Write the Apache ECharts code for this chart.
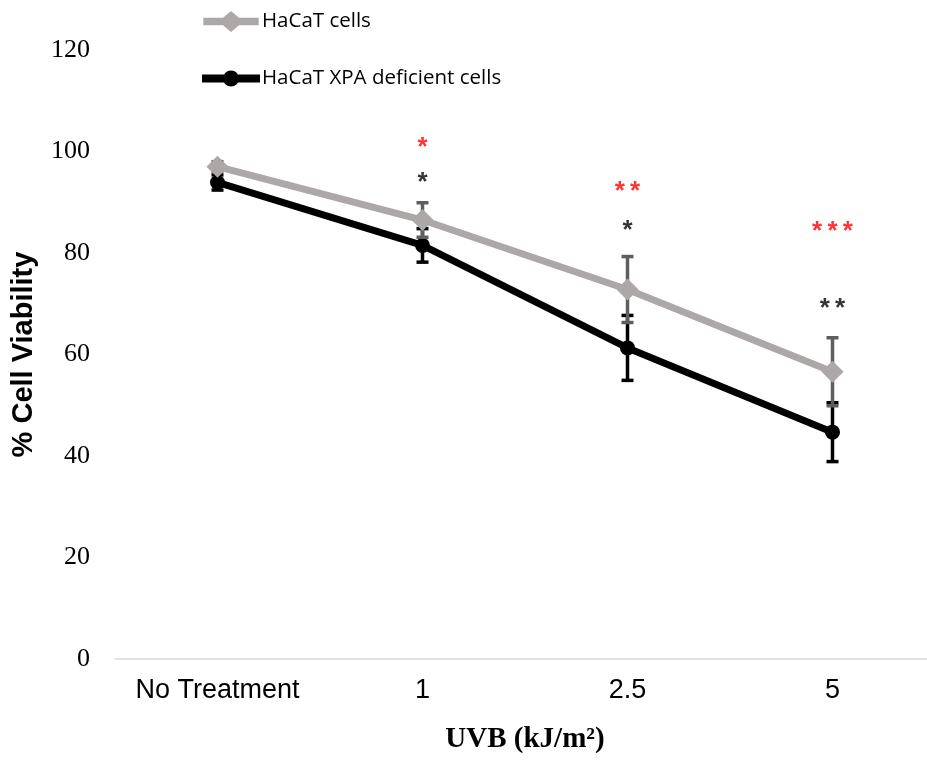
<!DOCTYPE html>
<html>
<head>
<meta charset="utf-8">
<script src="https://cdn.jsdelivr.net/npm/echarts@6/dist/echarts.min.js"></script>
<style>
  html, body { margin: 0; padding: 0; background: #fff; }
  #chart { width: 927px; height: 776px; }
</style>
</head>
<body>
<div id="chart"></div>
<script>
// UVB dose groups
const categories = ['No Treatment', '1', '2.5', '5'];

// Mean % viability and standard deviation per group
const hacatMean = [97.0, 86.5, 72.8, 56.6];
const hacatErr  = [1.0, 3.4, 6.5, 6.7];
const xpaMean   = [93.9, 81.5, 61.3, 44.7];
const xpaErr    = [1.5, 3.3, 6.4, 5.8];

// Significance markers: [group index, height on the value axis, number of stars]
const hacatStars = [[1, 100.8, 1], [2, 92.0, 2], [3, 84.1, 3]];
const xpaStars   = [[1, 93.9, 1], [2, 84.3, 1], [3, 69.0, 2]];

const yTicks = { min: 0, max: 120, interval: 20 };

const GRAY = '#aba8a7';
const GRAY_ERR = '#5e5e5e';
const BLACK = '#000000';

// Legend icons: thick line with the series marker in the middle
const ICON_DIAMOND = 'path://M0,6 L58,6 L58,14 L0,14 Z M29,-1 L42,10 L29,21 L16,10 Z';
const ICON_CIRCLE = 'path://M0,6 L58,6 L58,14 L0,14 Z M21,10 A8,8 0 1,1 37,10 A8,8 0 1,1 21,10 Z';

function errorSeries(name, means, errs, color, z) {
  return {
    name: name + ' error',
    type: 'custom',
    z: z,
    silent: true,
    data: means.map((m, i) => [i, m - errs[i], m + errs[i]]),
    renderItem: function (params, api) {
      const lo = api.coord([api.value(0), api.value(1)]);
      const hi = api.coord([api.value(0), api.value(2)]);
      const cap = 6;
      const style = { stroke: color, lineWidth: 3.5, fill: null };
      return {
        type: 'group',
        children: [
          { type: 'line', shape: { x1: lo[0], y1: lo[1], x2: hi[0], y2: hi[1] }, style: style },
          { type: 'line', shape: { x1: lo[0] - cap, y1: lo[1], x2: lo[0] + cap, y2: lo[1] }, style: style },
          { type: 'line', shape: { x1: hi[0] - cap, y1: hi[1], x2: hi[0] + cap, y2: hi[1] }, style: style }
        ]
      };
    }
  };
}

function starSeries(name, stars, color) {
  return {
    name: name,
    type: 'scatter',
    z: 10,
    silent: true,
    symbolSize: 1,
    itemStyle: { color: 'rgba(0,0,0,0)' },
    data: stars.map(s => ({
      value: [s[0], s[1]],
      count: s[2],
      // a run of three stars sits slightly right of its group
      label: { offset: [s[2] === 3 ? 8 : 0, 0] }
    })),
    label: {
      show: true,
      position: 'inside',
      formatter: p => Array(p.data.count).fill('*').join('\u2009'),
      color: color,
      fontFamily: 'Liberation Sans',
      fontWeight: 'bold',
      fontSize: 26
    },
    labelLayout: { hideOverlap: false }
  };
}

const chart = echarts.init(document.getElementById('chart'));
chart.setOption({
  animation: false,
  backgroundColor: '#ffffff',
  grid: { left: 115, top: 50, bottom: 117, width: 820, outerBoundsMode: 'none' },
  legend: {
    orient: 'vertical',
    left: 197,
    top: 6,
    itemWidth: 58,
    itemHeight: 21,
    itemGap: 36,
    data: [
      { name: 'HaCaT cells', icon: ICON_DIAMOND, itemStyle: { color: GRAY } },
      { name: 'HaCaT XPA deficient cells', icon: ICON_CIRCLE, itemStyle: { color: BLACK } }
    ],
    textStyle: { fontFamily: 'Open Sans', fontSize: 20.5, color: '#000', padding: [0, 0, 0, -3] }
  },
  xAxis: {
    type: 'category',
    data: categories,
    boundaryGap: true,
    axisLine: { lineStyle: { color: '#d9d9d9', width: 1.5 } },
    axisTick: { show: false },
    axisLabel: { interval: 0, fontFamily: 'Liberation Sans', fontSize: 27, color: '#000', margin: 18 }
  },
  yAxis: {
    type: 'value',
    min: yTicks.min,
    max: yTicks.max,
    interval: yTicks.interval,
    name: '% Cell Viability',
    nameLocation: 'middle',
    nameGap: 77,
    nameTextStyle: { fontFamily: 'Liberation Sans', fontWeight: 'bold', fontSize: 29, color: '#000' },
    axisLine: { show: false },
    axisTick: { show: false },
    splitLine: { show: false },
    axisLabel: { fontFamily: 'Liberation Serif', fontSize: 26, color: '#000', margin: 25 }
  },
  graphic: [{
    type: 'text',
    x: 525,
    y: 740,
    style: {
      text: 'UVB (kJ/m²)',
      font: 'bold 29px "Liberation Serif"',
      fill: '#000',
      align: 'center',
      verticalAlign: 'middle'
    }
  }],
  series: [
    errorSeries('HaCaT XPA deficient cells', xpaMean, xpaErr, BLACK, 2),
    {
      name: 'HaCaT XPA deficient cells',
      type: 'line',
      z: 3,
      data: xpaMean,
      symbol: 'circle',
      symbolSize: 15,
      lineStyle: { color: BLACK, width: 7 },
      itemStyle: { color: BLACK }
    },
    errorSeries('HaCaT cells', hacatMean, hacatErr, GRAY_ERR, 4),
    {
      name: 'HaCaT cells',
      type: 'line',
      z: 5,
      data: hacatMean,
      symbol: 'diamond',
      symbolSize: [22, 22],
      lineStyle: { color: GRAY, width: 7 },
      itemStyle: { color: GRAY }
    },
    starSeries('hacat-sig', hacatStars, '#ff0000'),
    starSeries('xpa-sig', xpaStars, '#000000')
  ]
});
</script>
</body>
</html>
